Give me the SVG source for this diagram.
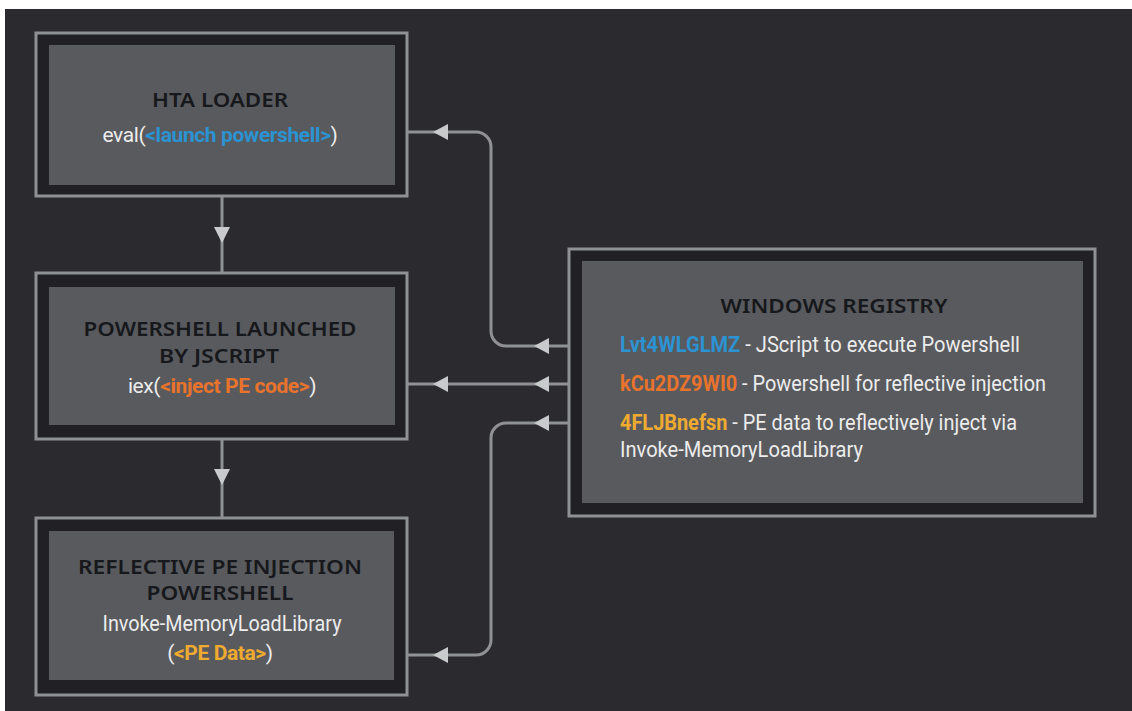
<svg xmlns="http://www.w3.org/2000/svg" xmlns:xlink="http://www.w3.org/1999/xlink" width="1132" height="711" viewBox="0 0 1132 711">
  <style>
    .frame { fill: #212125; stroke: #8e9092; stroke-width: 3; }
    .inner { fill: #595a5e; }
    .title { font-family: "Noto Sans", "DejaVu Sans", sans-serif; font-size: 20px; font-weight: 600; fill: #17181b; text-anchor: middle; }
    .body { font-family: Roboto, "Liberation Sans", sans-serif; font-size: 22px; fill: #ececec; }
    .sm { font-size: 21px; letter-spacing: -0.4px; }
    .mid { text-anchor: middle; }
    .blue { fill: #2b93d1; font-weight: 700; }
    .orange { fill: #e8732c; font-weight: 700; }
    .yellow { fill: #efaa30; font-weight: 700; }
    .conn { fill: none; stroke: #8f9193; stroke-width: 3; }
    .ah { fill: #c9cacc; }
  </style>
  <defs>
    <path id="ahl" d="M0,0 L15,-8 L15,8 Z"/>
    <path id="ahd" d="M0,0 L-8,-16 L8,-16 Z"/>
  </defs>
  <rect x="0" y="0" width="1132" height="711" fill="#ffffff"/>
  <rect x="5" y="9" width="1127" height="702" fill="#2b2a2f"/>

  <g id="connectors">
    <path class="conn" d="M222,196 V273"/>
    <path class="conn" d="M222,439 V518"/>
    <path class="conn" d="M569,346 H506 A15,15 0 0 1 491,331 V147 A15,15 0 0 0 476,132 H407"/>
    <path class="conn" d="M569,384 H407"/>
    <path class="conn" d="M569,423 H506 A15,15 0 0 0 491,438 V640 A15,15 0 0 1 476,655 H407"/>
    <use xlink:href="#ahd" class="ah" x="222" y="243"/>
    <use xlink:href="#ahd" class="ah" x="222" y="485"/>
    <use xlink:href="#ahl" class="ah" x="534" y="346"/>
    <use xlink:href="#ahl" class="ah" x="534" y="384"/>
    <use xlink:href="#ahl" class="ah" x="534" y="423"/>
    <use xlink:href="#ahl" class="ah" x="433" y="132"/>
    <use xlink:href="#ahl" class="ah" x="433" y="384"/>
    <use xlink:href="#ahl" class="ah" x="433" y="655"/>
  </g>

  <g id="hta-loader">
    <rect class="frame" x="36" y="33" width="371" height="163"/>
    <rect class="inner" x="49" y="45" width="346" height="140"/>
    <text class="title" x="220" y="107" textLength="136" lengthAdjust="spacingAndGlyphs">HTA LOADER</text>
    <text class="body sm mid" x="220" y="142">eval(<tspan class="blue">&lt;launch powershell&gt;</tspan>)</text>
  </g>

  <g id="powershell-launched">
    <rect class="frame" x="36" y="273" width="371" height="166"/>
    <rect class="inner" x="49" y="287" width="346" height="138"/>
    <text class="title" x="220" y="336" textLength="273" lengthAdjust="spacingAndGlyphs">POWERSHELL LAUNCHED</text>
    <text class="title" x="219" y="363" textLength="120" lengthAdjust="spacingAndGlyphs">BY JSCRIPT</text>
    <text class="body sm mid" x="222" y="393">iex(<tspan class="orange">&lt;inject PE code&gt;</tspan>)</text>
  </g>

  <g id="reflective-pe-injection">
    <rect class="frame" x="36" y="518" width="371" height="177"/>
    <rect class="inner" x="49" y="531" width="345" height="149"/>
    <text class="title" x="220" y="574" textLength="284" lengthAdjust="spacingAndGlyphs">REFLECTIVE PE INJECTION</text>
    <text class="title" x="220" y="600" textLength="147" lengthAdjust="spacingAndGlyphs">POWERSHELL</text>
    <text class="body mid" x="222" y="631" textLength="239" lengthAdjust="spacingAndGlyphs">Invoke-MemoryLoadLibrary</text>
    <text class="body sm mid" x="220" y="660">(<tspan class="yellow">&lt;PE Data&gt;</tspan>)</text>
  </g>

  <g id="windows-registry">
    <rect class="frame" x="569" y="249" width="526" height="267"/>
    <rect class="inner" x="582" y="261" width="501" height="242"/>
    <text class="title" x="834" y="313" textLength="227" lengthAdjust="spacingAndGlyphs">WINDOWS REGISTRY</text>
    <text class="body" x="620" y="352" textLength="400" lengthAdjust="spacingAndGlyphs"><tspan class="blue">Lvt4WLGLMZ</tspan> - JScript to execute Powershell</text>
    <text class="body" x="620" y="391" textLength="426" lengthAdjust="spacingAndGlyphs"><tspan class="orange">kCu2DZ9WI0</tspan> - Powershell for reflective injection</text>
    <text class="body" x="620" y="430" textLength="397" lengthAdjust="spacingAndGlyphs"><tspan class="yellow">4FLJBnefsn</tspan> - PE data to reflectively inject via</text>
    <text class="body" x="620" y="457" textLength="243" lengthAdjust="spacingAndGlyphs">Invoke-MemoryLoadLibrary</text>
  </g>
</svg>
